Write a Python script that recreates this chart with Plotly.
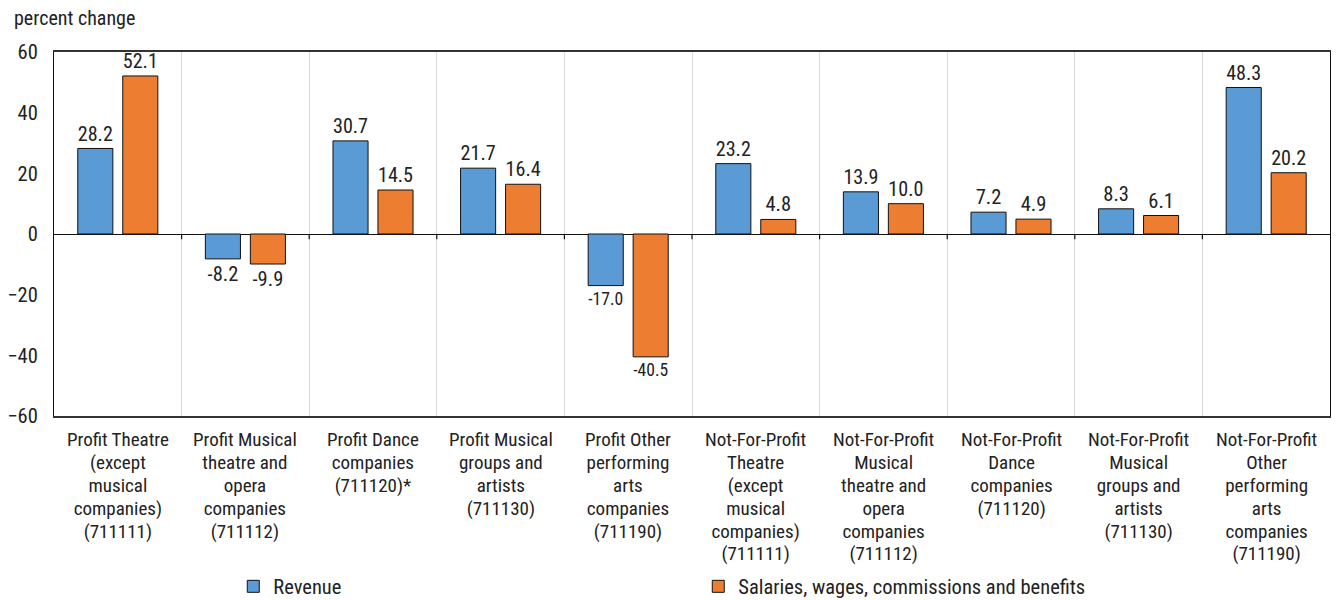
import plotly.graph_objects as go

categories = [
    "Profit Theatre<br>(except<br>musical<br>companies)<br>(711111)",
    "Profit Musical<br>theatre and<br>opera<br>companies<br>(711112)",
    "Profit Dance<br>companies<br>(711120)*",
    "Profit Musical<br>groups and<br>artists<br>(711130)",
    "Profit Other<br>performing<br>arts<br>companies<br>(711190)",
    "Not-For-Profit<br>Theatre<br>(except<br>musical<br>companies)<br>(711111)",
    "Not-For-Profit<br>Musical<br>theatre and<br>opera<br>companies<br>(711112)",
    "Not-For-Profit<br>Dance<br>companies<br>(711120)",
    "Not-For-Profit<br>Musical<br>groups and<br>artists<br>(711130)",
    "Not-For-Profit<br>Other<br>performing<br>arts<br>companies<br>(711190)",
]
revenue = [28.2, -8.2, 30.7, 21.7, -17.0, 23.2, 13.9, 7.2, 8.3, 48.3]
salaries = [52.1, -9.9, 14.5, 16.4, -40.5, 4.8, 10.0, 4.9, 6.1, 20.2]
y_ticks = [-60, -40, -20, 0, 20, 40, 60]

FONT = "Roboto Condensed, Roboto, sans-serif"
FS = 20.5
TXT = "#222222"

fig = go.Figure()
fig.add_trace(go.Bar(
    name="Revenue", x=categories, y=revenue,
    marker=dict(color="#5B9BD5", line=dict(color="#111111", width=1)),
    texttemplate="%{y:.1f}", textposition="outside",
    textfont=dict(size=FS, color=TXT, family=FONT), cliponaxis=False,
))
fig.add_trace(go.Bar(
    name="Salaries, wages, commissions and benefits", x=categories, y=salaries,
    marker=dict(color="#ED7D31", line=dict(color="#111111", width=1)),
    texttemplate="%{y:.1f}", textposition="outside",
    textfont=dict(size=FS, color=TXT, family=FONT), cliponaxis=False,
))

# small tick marks hanging below the zero line at the category boundaries
for i in range(1, len(categories)):
    fig.add_shape(type="line", xref="x", yref="y", x0=i - 0.5, x1=i - 0.5,
                  y0=0, y1=-1.7, line=dict(color="#111111", width=1.2))

# multi-line category labels: the base font size sets the leading,
# the inner spans carry the visible glyph size
CAT_FS = 19
LEADING_FS = 17.6
for cat in categories:
    text = "<br>".join(f"<span style='font-size:{CAT_FS}px'>{ln}</span>"
                       for ln in cat.split("<br>"))
    fig.add_annotation(text=text, x=cat, xref="x", y=0, yref="paper",
                       xanchor="center", yanchor="top", align="center",
                       yshift=-10, showarrow=False,
                       font=dict(size=LEADING_FS, color=TXT, family=FONT))

fig.add_annotation(text="percent change", xref="paper", yref="paper",
                   x=-0.033, y=1.093, xanchor="left", yanchor="middle",
                   showarrow=False, font=dict(size=20, color=TXT, family=FONT))

fig.update_layout(
    width=1336, height=600,
    margin=dict(l=54, r=6, t=52, b=184),
    plot_bgcolor="white", paper_bgcolor="white",
    barmode="group", bargap=0.295, bargroupgap=0.22,
    font=dict(family=FONT, size=FS, color=TXT),
    legend=dict(orientation="h", x=0.1405, xanchor="left",
                yref="container", y=13.5 / 600, yanchor="middle",
                entrywidth=420, entrywidthmode="pixels", itemwidth=30,
                font=dict(size=FS, color=TXT, family=FONT)),
    showlegend=True,
)
fig.update_xaxes(
    type="category", tickson="boundaries", showgrid=True, gridcolor="#D9D9D9",
    gridwidth=1, ticks="", showticklabels=False, automargin=False,
    showline=True, linecolor="#333333", linewidth=1.5, mirror=True,
)
fig.update_yaxes(
    range=[-60, 60], tickvals=y_ticks, showgrid=False, zeroline=True,
    zerolinecolor="#111111", zerolinewidth=1.2, showline=True,
    linecolor="#111111", linewidth=1.2, mirror=True, ticks="", automargin=False,
    ticklabelstandoff=11, tickfont=dict(size=FS, color=TXT, family=FONT),
)

fig.write_html("out.html")
